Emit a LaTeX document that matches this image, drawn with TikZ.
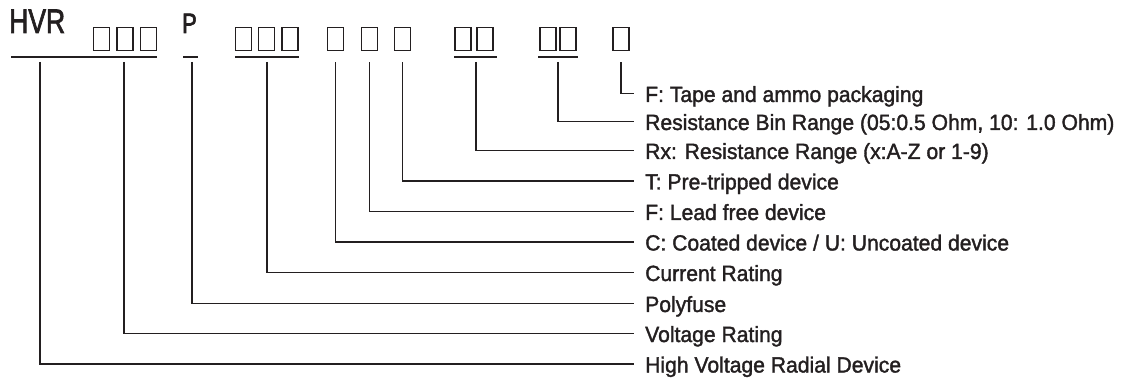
\documentclass[tikz,border=0pt]{standalone}
\usepackage{graphicx}
\usepackage{fontspec}
\setmainfont{Liberation Sans}
\newfontfamily\labfont[FakeStretch=0.96,FakeBold=1.6]{Liberation Sans}
\newfontfamily\codefont[FakeBold=2.4]{Liberation Sans}
\definecolor{ink}{HTML}{231F20}
\begin{document}
\begin{tikzpicture}[x=1pt,y=-1pt,
  wire/.style={draw=ink, line width=1.8pt},
  bx/.style={draw=ink, line width=1.9pt, minimum width=16pt, minimum height=23pt, inner sep=0pt},
  lab/.style={anchor=west, inner xsep=11pt, inner ysep=0pt, text height=17pt, text depth=0pt,
              font=\labfont\fontsize{22}{24}\selectfont, text=ink},
  code/.style={anchor=base west, inner sep=0pt, text=ink},
]
\useasboundingbox (0,0) rectangle (1124,379);

% code letters
\node[code] (hvr) at (9,33) {\scalebox{0.78}[1]{\codefont\fontsize{34}{38}\selectfont HVR}};
\node[code] (p) at (182,33) {\scalebox{0.78}[1]{\codefont\fontsize{28}{32}\selectfont P}};

% placeholder boxes
\node[bx] (b1a) at (101.5,39) {};
\node[bx] (b1b) at (125,39) {};
\node[bx] (b1c) at (148.5,39) {};
\node[bx] (b2a) at (243.5,39) {};
\node[bx] (b2b) at (266.5,39) {};
\node[bx] (b2c) at (290,39) {};
\node[bx] (b3) at (335.5,39) {};
\node[bx] (b4) at (369.5,39) {};
\node[bx] (b5) at (402.5,39) {};
\node[bx] (b6a) at (463,39) {};
\node[bx] (b6b) at (485,39) {};
\node[bx] (b7a) at (548,39) {};
\node[bx] (b7b) at (568,39) {};
\node[bx] (b8) at (621,39) {};

% underlines
\draw[wire] (11,57) -- (157,57);
\draw[wire] (183,57) -- (198,57);
\draw[wire] (235,57) -- (299,57);
\draw[wire] (454,57) -- (497,57);
\draw[wire] (538,57) -- (578,57);

% labels
\node[lab] (l0) at (634,93.5) {F: Tape and ammo packaging};
\node[lab] (l1) at (634,121.5) {Resistance Bin Range (05:0.5 Ohm, 10: 1.0 Ohm)};
\node[lab] (l2) at (634,150.5) {Rx: Resistance Range (x:A-Z or 1-9)};
\node[lab] (l3) at (634,181) {T: Pre-tripped device};
\node[lab] (l4) at (634,211.5) {F: Lead free device};
\node[lab] (l5) at (634,242) {C: Coated device / U: Uncoated device};
\node[lab] (l6) at (634,272.5) {Current Rating};
\node[lab] (l7) at (634,303.5) {Polyfuse};
\node[lab] (l8) at (634,333.5) {Voltage Rating};
\node[lab] (l9) at (634,364) {High Voltage Radial Device};

% connector starts
\coordinate (s9) at (40,62);
\coordinate (s8) at (124,62);
\coordinate (s7) at (192,62);
\coordinate (s6) at (267,62);
\coordinate (s2) at (476,62);
\coordinate (s1) at (558,62);

% connectors
\draw[wire] ([yshift=-11pt]b8.south) |- (l0.west);
\draw[wire] (s1) |- (l1.west);
\draw[wire] (s2) |- (l2.west);
\draw[wire] ([yshift=-11pt]b5.south) |- (l3.west);
\draw[wire] ([yshift=-11pt]b4.south) |- (l4.west);
\draw[wire] ([yshift=-11pt]b3.south) |- (l5.west);
\draw[wire] (s6) |- (l6.west);
\draw[wire] (s7) |- (l7.west);
\draw[wire] (s8) |- (l8.west);
\draw[wire] (s9) |- (l9.west);
\end{tikzpicture}
\end{document}
